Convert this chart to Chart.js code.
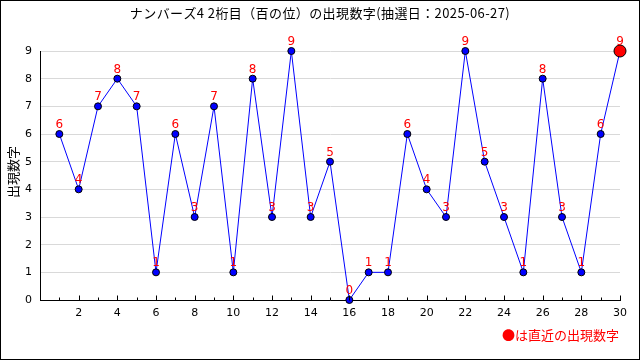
<!DOCTYPE html>
<html><head><meta charset="utf-8">
<script src="https://cdn.jsdelivr.net/npm/chart.js@4"></script>
<style>html,body{margin:0;padding:0;background:#fff}#wrap{width:640px;height:360px;position:relative}</style>
</head><body><div id="wrap"><canvas id="c" width="640" height="360"></canvas></div>
<script>
const draws = [1,2,3,4,5,6,7,8,9,10,11,12,13,14,15,16,17,18,19,20,21,22,23,24,25,26,27,28,29,30];
const digits = [6,4,7,8,7,1,6,3,7,1,8,3,9,3,5,0,1,1,6,4,3,9,5,3,1,8,3,1,6,9];
const titleText = 'ナンバーズ4 2桁目（百の位）の出現数字(抽選日：2025-06-27)';
const yTitle = '出現数字';
const legendText = '●は直近の出現数字';
const FONT = '"DejaVu Sans", "Noto Sans CJK JP", sans-serif';
const JFONT = '"Noto Sans CJK JP", sans-serif';

const pts = draws.map((d,i)=>({x:d,y:digits[i]}));
const last = pts.length-1;

const extras = {
  id:'extras',
  afterDatasetsDraw(chart){
    const ctx = chart.ctx;
    const meta = chart.getDatasetMeta(0);
    ctx.save();
    ctx.fillStyle = '#ff0000';
    ctx.font = '12px ' + FONT;
    ctx.textAlign = 'center';
    ctx.textBaseline = 'bottom';
    meta.data.forEach((p,i)=>{
      ctx.fillText(String(digits[i]), p.x, p.y - 3);
    });
    ctx.restore();
  },
  afterDraw(chart){
    const ctx = chart.ctx;
    const xs = chart.scales.x, ys = chart.scales.y;
    ctx.save();
    ctx.strokeStyle = '#000'; ctx.lineWidth = 1;
    const yb = Math.round(ys.getPixelForValue(0)) + 0.5;
    for (let v = 1; v <= 30; v++) {
      const px = Math.round(xs.getPixelForValue(v)) + 0.5;
      const len = (v % 2 === 0) ? 5 : 3;
      ctx.beginPath(); ctx.moveTo(px, yb); ctx.lineTo(px, yb - len); ctx.stroke();
    }
    // title
    ctx.fillStyle = '#000';
    ctx.font = '13px ' + JFONT;
    ctx.textAlign = 'center'; ctx.textBaseline = 'middle';
    if ('letterSpacing' in ctx) ctx.letterSpacing = '0.4px';
    ctx.fillText(titleText, 320, 13);
    if ('letterSpacing' in ctx) ctx.letterSpacing = '0px';
    // y title
    ctx.save();
    ctx.translate(13, 172);
    ctx.rotate(-Math.PI/2);
    ctx.font = '13px ' + JFONT;
    ctx.fillText(yTitle, 0, 0);
    ctx.restore();
    // legend
    ctx.fillStyle = '#ff0000';
    ctx.font = '13px ' + JFONT;
    ctx.textAlign = 'right';
    ctx.fillText(legendText, 619, 335);
    // border
    ctx.strokeStyle = '#000';
    ctx.strokeRect(0.5, 0.5, 639, 359);
    ctx.restore();
  }
};

new Chart(document.getElementById('c'), {
  type: 'line',
  data: { datasets: [{
    data: pts,
    borderColor: '#0000ff',
    borderWidth: 1,
    tension: 0,
    pointRadius: pts.map((p,i)=> i===last ? 6 : 3.5),
    pointBackgroundColor: pts.map((p,i)=> i===last ? '#ff0000' : '#0000ff'),
    pointBorderColor: '#000',
    pointBorderWidth: 1,
    clip: false
  }]},
  options: {
    responsive: false,
    animation: false,
    events: [],
    layout: { padding: { top: 51, right: 20, left: 0, bottom: 0 } },
    plugins: { legend: { display: false }, title: { display: false }, tooltip: { enabled: false } },
    scales: {
      x: {
        type: 'linear', min: 0, max: 30,
        grid: { display: false, drawTicks: false },
        border: { display: true, color: '#000', width: 1 },
        ticks: {
          stepSize: 1, autoSkip: false, maxRotation: 0, color: '#000',
          font: { size: 11, family: FONT }, padding: 7,
          callback: (v)=> (v % 2 === 0 && v > 0) ? String(v) : ''
        },
        afterFit(s){ s.height = 60; }
      },
      y: {
        min: 0, max: 9,
        grid: { color: '#d9d9d9', drawTicks: false },
        border: { display: true, color: '#000', width: 1 },
        ticks: { stepSize: 1, color: '#000', font: { size: 11, family: FONT }, padding: 8 },
        title: { display: false },
        afterFit(s){ s.width = 40; }
      }
    }
  },
  plugins: [extras]
});
</script></body></html>
